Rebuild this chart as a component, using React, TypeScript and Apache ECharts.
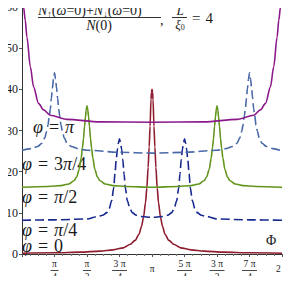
import React, { useEffect, useRef } from "react";
import * as echarts from "echarts";

// x values are in units of π (0 … 2 ⇒ 0 … 2π)
const X_TICK_LABELS = ["", "π/4", "π/2", "3 π/4", "π", "5 π/4", "3 π/2", "7 π/4", "2 π"];
const Y_MIN = 0;
const Y_MAX = 60;
const Y_STEP = 10;

// φ = 0
const PHI0_X = [0, 0.25, 0.45, 0.6, 0.7, 0.78, 0.83, 0.87, 0.9, 0.92, 0.935, 0.95, 0.96, 0.97, 0.978, 0.985, 0.992, 0.996, 1.0,
  1.004, 1.008, 1.015, 1.022, 1.03, 1.04, 1.05, 1.065, 1.08, 1.1, 1.13, 1.17, 1.22, 1.3, 1.4, 1.55, 1.75, 2.0];
const PHI0_Y = [0.2, 0.3, 0.45, 0.7, 1.0, 1.5, 2.3, 3.3, 4.8, 6.8, 9, 12.5, 16, 21, 26, 31, 37.5, 39.3, 40,
  39.3, 37.5, 31, 26, 21, 16, 12.5, 9, 6.8, 4.8, 3.3, 2.3, 1.5, 1.0, 0.7, 0.45, 0.3, 0.2];

// φ = π/4
const PHI1_X = [0, 0.25, 0.5, 0.58, 0.62, 0.65, 0.67, 0.69, 0.705, 0.715, 0.725, 0.734, 0.742, 0.75, 0.758, 0.766, 0.775, 0.785, 0.795, 0.81, 0.83, 0.85, 0.88, 0.92,
  1.0, 1.08, 1.12, 1.15, 1.17, 1.19, 1.205, 1.215, 1.225, 1.234, 1.242, 1.25, 1.258, 1.266, 1.275, 1.285, 1.295, 1.31, 1.33, 1.35, 1.38, 1.42, 1.5, 1.75, 2.0];
const PHI1_Y = [8.2, 8.3, 8.5, 9.1, 9.4, 10, 11, 13, 16, 19.5, 23, 25.5, 27, 28, 27, 25.5, 23, 19.5, 16, 13, 11, 10, 9.4, 9.1,
  8.9, 9.1, 9.4, 10, 11, 13, 16, 19.5, 23, 25.5, 27, 28, 27, 25.5, 23, 19.5, 16, 13, 11, 10, 9.4, 9.1, 8.5, 8.3, 8.2];

// φ = π/2
const PHI2_X = [0, 0.2, 0.3, 0.36, 0.4, 0.42, 0.44, 0.455, 0.465, 0.473, 0.481, 0.488, 0.494, 0.5, 0.506, 0.512, 0.519, 0.527, 0.535, 0.545, 0.56, 0.58, 0.6, 0.64, 0.7, 0.8,
  1.0, 1.2, 1.3, 1.36, 1.4, 1.42, 1.44, 1.455, 1.465, 1.473, 1.481, 1.488, 1.494, 1.5, 1.506, 1.512, 1.519, 1.527, 1.535, 1.545, 1.56, 1.58, 1.6, 1.64, 1.7, 1.8, 2.0];
const PHI2_Y = [16.2, 16.4, 16.6, 17, 17.8, 18.7, 20.6, 23.3, 25.8, 28, 31, 33.3, 35, 36, 35, 33.3, 31, 28, 25.8, 23.3, 20.6, 18.7, 17.8, 17, 16.6, 16.4,
  16.2, 16.4, 16.6, 17, 17.8, 18.7, 20.6, 23.3, 25.8, 28, 31, 33.3, 35, 36, 35, 33.3, 31, 28, 25.8, 23.3, 20.6, 18.7, 17.8, 17, 16.6, 16.4, 16.2];

// φ = 3π/4
const PHI3_X = [0, 0.07, 0.12, 0.154, 0.175, 0.19, 0.2, 0.21, 0.218, 0.226, 0.234, 0.242, 0.25, 0.258, 0.266, 0.274, 0.282, 0.29, 0.3, 0.31, 0.325, 0.346, 0.38, 0.43, 0.5, 0.75,
  1.0, 1.25, 1.5, 1.57, 1.62, 1.654, 1.675, 1.69, 1.7, 1.71, 1.718, 1.726, 1.734, 1.742, 1.75, 1.758, 1.766, 1.774, 1.782, 1.79, 1.8, 1.81, 1.825, 1.846, 1.88, 1.93, 2.0];
const PHI3_Y = [25.2, 25.6, 26.1, 26.9, 28.2, 29.8, 31.3, 33.6, 35.2, 37.8, 40.3, 42.5, 44, 42.5, 40.3, 37.8, 35.2, 33.6, 31.3, 29.8, 28.2, 26.9, 26.1, 25.6, 25.2, 24.7,
  24.5, 24.7, 25.2, 25.6, 26.1, 26.9, 28.2, 29.8, 31.3, 33.6, 35.2, 37.8, 40.3, 42.5, 44, 42.5, 40.3, 37.8, 35.2, 33.6, 31.3, 29.8, 28.2, 26.9, 26.1, 25.6, 25.0];

// φ = π
const PHI4_X = [0.004, 0.012, 0.025, 0.038, 0.064, 0.089, 0.127, 0.166, 0.217, 0.345, 0.6, 1.0, 1.4, 1.655, 1.783, 1.834, 1.873, 1.911, 1.936, 1.962, 1.975, 1.988, 1.996];
const PHI4_Y = [80, 60, 56.8, 52.7, 45.5, 40.6, 36.6, 35, 33.7, 32.7, 32.1, 32.0, 32.1, 32.7, 33.7, 35, 36.6, 40.6, 45.5, 52.7, 56.8, 60, 80];

const FONT = "'Liberation Serif', 'Times New Roman', serif";
const INK = "#1a1a1a";
const SP = "\u2004";

const pairs = (xs: number[], ys: number[]) => xs.map((x, i) => [x, ys[i]]);

const SERIES = [
  { name: "φ=0", xs: PHI0_X, ys: PHI0_Y, color: "#8e1b2e", dash: "solid" as any },
  { name: "φ=π/4", xs: PHI1_X, ys: PHI1_Y, color: "#17288f", dash: [9, 4] as any },
  { name: "φ=π/2", xs: PHI2_X, ys: PHI2_Y, color: "#62951c", dash: "solid" as any },
  { name: "φ=3π/4", xs: PHI3_X, ys: PHI3_Y, color: "#4a69a8", dash: [9, 4] as any },
  { name: "φ=π", xs: PHI4_X, ys: PHI4_Y, color: "#8c198c", dash: "solid" as any },
];

function xLabel(value: number): string {
  const idx = Math.round(value * 4);
  const lab = X_TICK_LABELS[idx] ?? "";
  if (!lab) return "";
  if (lab.includes("/")) {
    const [num, den] = lab.split("/");
    const bar = num.length > 1 ? "bw" : "bn";
    return `{n|${num}}\n{${bar}| }\n{d|${den}}`;
  }
  return `{s|${lab}}`;
}

function txt(x: number, y: number, text: string, size: number, align = "left", lineHeight = size, extraRich: any = {}) {
  return {
    type: "text",
    x,
    y,
    silent: true,
    style: {
      text,
      fontFamily: FONT,
      fontSize: size,
      lineHeight,
      fill: INK,
      align,
      textAlign: align,
      verticalAlign: "middle",
      textVerticalAlign: "middle",
      rich: {
        i: { fontFamily: FONT, fontStyle: "italic", fontSize: size, lineHeight, fill: INK },
        ...extraRich,
      },
    },
  };
}

function hline(x1: number, x2: number, y: number) {
  return {
    type: "line",
    silent: true,
    shape: { x1, y1: y, x2, y2: y },
    style: { stroke: INK, lineWidth: 0.9 },
  };
}

export default function App() {
  const ref = useRef<HTMLDivElement>(null);
  useEffect(() => {
    if (!ref.current) return;
    const chart = echarts.init(ref.current, null, { renderer: "svg" });
    const sub = { fontFamily: FONT, fontSize: 9, fill: INK, verticalAlign: "bottom", lineHeight: 15 };
    chart.setOption({
      animation: false,
      backgroundColor: "#ffffff",
      grid: { left: 22, right: 8.5, top: 7, bottom: 30, containLabel: false },
      xAxis: {
        type: "value",
        min: 0,
        max: 2,
        interval: 0.25,
        splitLine: { show: false },
        axisLine: { show: true, onZero: false, lineStyle: { color: "#333", width: 1 } },
        axisTick: { show: true, length: 3, lineStyle: { color: "#555" } },
        minorTick: { show: true, splitNumber: 4, length: 2, lineStyle: { color: "#777" } },
        axisLabel: {
          margin: 5,
          color: INK,
          fontFamily: FONT,
          fontSize: 10,
          formatter: xLabel,
          rich: {
            n: { fontFamily: FONT, fontSize: 9.5, lineHeight: 10, align: "center", color: INK },
            d: { fontFamily: FONT, fontSize: 9.5, lineHeight: 10, align: "center", color: INK },
            bn: { width: 8, height: 0.8, lineHeight: 3, backgroundColor: INK, fontSize: 1 },
            bw: { width: 15, height: 0.8, lineHeight: 3, backgroundColor: INK, fontSize: 1 },
            s: { fontFamily: FONT, fontSize: 9.5, lineHeight: 19, color: INK },
          },
        },
      },
      yAxis: {
        type: "value",
        min: Y_MIN,
        max: Y_MAX,
        interval: Y_STEP,
        splitLine: { show: false },
        axisLine: { show: true, lineStyle: { color: "#333", width: 1 } },
        axisTick: { show: true, length: 3, lineStyle: { color: "#555" } },
        axisLabel: { margin: 4, color: INK, fontFamily: FONT, fontSize: 12 },
      },
      series: SERIES.map((s) => ({
        type: "line",
        name: s.name,
        data: pairs(s.xs, s.ys),
        showSymbol: false,
        symbol: "none",
        smooth: 0.3,
        smoothMonotone: "x",
        clip: true,
        silent: true,
        lineStyle: { color: s.color, width: 1.6, type: s.dash },
      })),
      graphic: [
        // title fraction
        txt(38, 10.5, "{i|N}{a|↑}({i|ω}=0)+{i|N}{a|↓}({i|ω}=0)", 14, "left", 14, { a: sub }),
        hline(38, 161, 17.5),
        txt(99, 25, "{i|N}(0)", 14, "center", 13),
        txt(160, 20.5, ",", 14, "left", 12),
        txt(180, 10.5, "{i|L}", 13, "center", 12),
        hline(172, 187, 17.5),
        txt(180, 24.5, "{i|ξ}{z|0}", 13, "center", 12, { z: { fontFamily: FONT, fontSize: 8, fill: INK, verticalAlign: "bottom", lineHeight: 14 } }),
        txt(192, 17.5, "=" + SP + "4", 15, "left"),
        // curve labels
        txt(33, 127, `{i|φ}${SP}=${SP}{i|π}`, 18, "left", 14),
        txt(22, 164, `{i|φ}${SP}=${SP}3{i|π}/4`, 18, "left", 14),
        txt(22, 197, `{i|φ}${SP}=${SP}{i|π}/2`, 18, "left", 14),
        txt(22, 230, `{i|φ}${SP}=${SP}{i|π}/4`, 18, "left", 14),
        txt(22, 246, `{i|φ}${SP}=${SP}0`, 18, "left", 14),
        // axis name
        txt(271, 240, "Φ", 14, "center"),
      ],
    });
    return () => chart.dispose();
  }, []);
  return <div ref={ref} style={{ width: 291, height: 284, margin: -8 }} />;
}
